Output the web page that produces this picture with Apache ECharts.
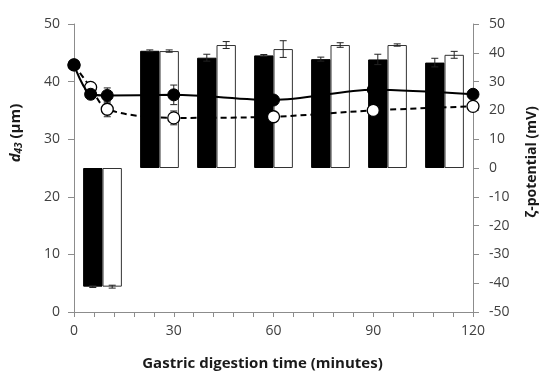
<!DOCTYPE html>
<html>
<head>
<meta charset="utf-8">
<script src="https://cdn.jsdelivr.net/npm/echarts@6/dist/echarts.min.js"></script>
<style>
  html, body { margin: 0; padding: 0; background: #fff; }
  #chart { width: 547px; height: 379px; }
</style>
</head>
<body>
<div id="chart"></div>
<script>
// line data: time (min) vs d43 (µm)
const timePoints = [0, 5, 10, 30, 60, 90, 120];
const d43Solid = [42.9, 37.8, 37.6, 37.7, 36.8, 38.6, 37.8];
const d43SolidErr = [0.3, 0.5, 1.3, 1.7, 0.3, 0.3, 0.3];
const d43Open = [42.9, 39.0, 35.2, 33.7, 33.9, 35.0, 35.7];
const d43OpenErr = [0.3, 0.4, 1.3, 1.2, 0.3, 0.3, 0.3];

// bars: zeta-potential (mV), 7 sample groups
const barGroups = ['g1', 'g2', 'g3', 'g4', 'g5', 'g6', 'g7'];
const zetaBlack = [-41.2, 40.7, 38.3, 39.1, 37.8, 37.7, 36.6];
const zetaBlackErr = [0.3, 0.3, 1.2, 0.3, 0.7, 1.8, 1.5];
const zetaWhite = [-41.2, 40.6, 42.7, 41.3, 42.7, 42.7, 39.3];
const zetaWhiteErr = [0.5, 0.4, 1.2, 2.9, 0.8, 0.4, 1.2];

const axisColor = '#8c8c8c';
const labelColor = '#404040';
const fontFam = '"Open Sans", "DejaVu Sans", sans-serif';

const barGapCat = 0.32;
const barShare = (1 - barGapCat) / 2;

function barErrData(vals, errs) {
  return vals.map((v, i) => [i, v - errs[i], v + errs[i]]);
}
function lineErrData(vals, errs) {
  return vals.map((v, i) => [timePoints[i], v - errs[i], v + errs[i]]);
}

function errRender(offset, useCat) {
  return function (params, api) {
    const x = api.value(0);
    const lo = api.coord([x, api.value(1)]);
    const hi = api.coord([x, api.value(2)]);
    let px = lo[0];
    if (useCat) {
      const cw = api.size([1, 0])[0];
      px += offset * cw;
    }
    const cap = 3.5;
    const st = { stroke: '#222', lineWidth: 1 };
    return {
      type: 'group',
      children: [
        { type: 'line', shape: { x1: px, y1: lo[1], x2: px, y2: hi[1] }, style: st },
        { type: 'line', shape: { x1: px - cap, y1: lo[1], x2: px + cap, y2: lo[1] }, style: st },
        { type: 'line', shape: { x1: px - cap, y1: hi[1], x2: px + cap, y2: hi[1] }, style: st }
      ]
    };
  };
}

const chart = echarts.init(document.getElementById('chart'));
chart.setOption({
  animation: false,
  grid: { left: 74, right: 70, top: 24, bottom: 67 },
  xAxis: [
    {
      type: 'value',
      min: 0,
      max: 120,
      interval: 30,
      name: 'Gastric digestion time (minutes)',
      nameLocation: 'middle',
      nameGap: 44,
      nameTextStyle: { fontFamily: fontFam, fontWeight: 'bold', fontSize: 15, color: '#1a1a1a', padding: [0, 22, 0, 0] },
      axisLine: { lineStyle: { color: axisColor } },
      axisTick: { show: true, length: 5, lineStyle: { color: axisColor } },
      minorTick: { show: true, splitNumber: 5, length: 5, lineStyle: { color: axisColor } },
      axisLabel: { color: labelColor, fontFamily: fontFam, fontSize: 14, margin: 12 },
      splitLine: { show: false }
    },
    {
      type: 'category',
      data: barGroups,
      boundaryGap: true,
      show: false
    }
  ],
  yAxis: [
    {
      type: 'value',
      min: 0,
      max: 50,
      interval: 10,
      name: '{i|d}{s|43}{n| (µm)}',
      nameLocation: 'middle',
      nameRotate: 90,
      nameGap: 50,
      nameTextStyle: {
        padding: [0, 0, 0, 70],
        rich: {
          i: { fontFamily: fontFam, fontWeight: 'bold', fontStyle: 'italic', fontSize: 15, color: '#1a1a1a' },
          s: { fontFamily: fontFam, fontWeight: 'bold', fontStyle: 'italic', fontSize: 10, color: '#1a1a1a', verticalAlign: 'bottom', padding: [6, 0, 0, 0] },
          n: { fontFamily: fontFam, fontWeight: 'bold', fontSize: 15, color: '#1a1a1a' }
        }
      },
      axisLine: { show: true, lineStyle: { color: axisColor } },
      axisTick: { show: true, length: 6, lineStyle: { color: axisColor } },
      axisLabel: { color: labelColor, fontFamily: fontFam, fontSize: 14, margin: 14 },
      splitLine: { show: false }
    },
    {
      type: 'value',
      position: 'right',
      min: -50,
      max: 50,
      interval: 10,
      name: 'ζ-potential (mV)',
      nameLocation: 'middle',
      nameRotate: 90,
      nameGap: 52,
      nameTextStyle: { fontFamily: fontFam, fontWeight: 'bold', fontSize: 14, color: '#1a1a1a', padding: [0, 0, 0, 12] },
      axisLine: { show: true, lineStyle: { color: axisColor } },
      axisTick: { show: true, length: 6, lineStyle: { color: axisColor } },
      axisLabel: { color: labelColor, fontFamily: fontFam, fontSize: 14, margin: 16 },
      splitLine: { show: false }
    }
  ],
  series: [
    {
      name: 'zeta black',
      type: 'bar',
      xAxisIndex: 1,
      yAxisIndex: 1,
      data: zetaBlack,
      barGap: '0%',
      barCategoryGap: (barGapCat * 100) + '%',
      itemStyle: { color: '#000', borderColor: '#000', borderWidth: 1 },
      z: 2
    },
    {
      name: 'zeta white',
      type: 'bar',
      xAxisIndex: 1,
      yAxisIndex: 1,
      data: zetaWhite,
      barGap: '0%',
      barCategoryGap: (barGapCat * 100) + '%',
      itemStyle: { color: '#fff', borderColor: '#333', borderWidth: 1 },
      z: 2
    },
    {
      type: 'custom',
      xAxisIndex: 1,
      yAxisIndex: 1,
      data: barErrData(zetaBlack, zetaBlackErr),
      renderItem: errRender(-barShare / 2, true),
      encode: { x: 0, y: [1, 2] },
      z: 3
    },
    {
      type: 'custom',
      xAxisIndex: 1,
      yAxisIndex: 1,
      data: barErrData(zetaWhite, zetaWhiteErr),
      renderItem: errRender(barShare / 2, true),
      encode: { x: 0, y: [1, 2] },
      z: 3
    },
    {
      type: 'custom',
      xAxisIndex: 0,
      yAxisIndex: 0,
      data: lineErrData(d43Open, d43OpenErr),
      renderItem: errRender(0, false),
      encode: { x: 0, y: [1, 2] },
      z: 4
    },
    {
      type: 'custom',
      xAxisIndex: 0,
      yAxisIndex: 0,
      data: lineErrData(d43Solid, d43SolidErr),
      renderItem: errRender(0, false),
      encode: { x: 0, y: [1, 2] },
      z: 4
    },
    {
      name: 'd43 open',
      type: 'line',
      xAxisIndex: 0,
      yAxisIndex: 0,
      data: timePoints.map((t, i) => [t, d43Open[i]]),
      smooth: 0.3,
      symbol: 'circle',
      symbolSize: 12,
      lineStyle: { color: '#000', width: 2, type: [6, 4] },
      itemStyle: { color: '#fff', borderColor: '#000', borderWidth: 1.3 },
      z: 5
    },
    {
      name: 'd43 solid',
      type: 'line',
      xAxisIndex: 0,
      yAxisIndex: 0,
      data: timePoints.map((t, i) => [t, d43Solid[i]]),
      smooth: 0.3,
      symbol: 'circle',
      symbolSize: 12,
      lineStyle: { color: '#000', width: 2 },
      itemStyle: { color: '#000', borderColor: '#000', borderWidth: 1 },
      z: 6
    }
  ]
});
</script>
</body>
</html>
